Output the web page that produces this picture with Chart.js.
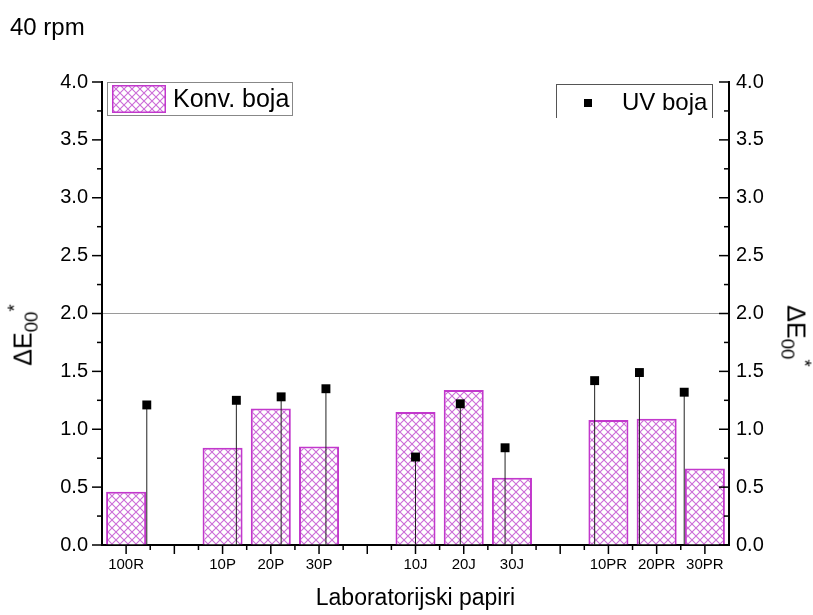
<!DOCTYPE html>
<html>
<head>
<meta charset="utf-8">
<script src="https://cdn.jsdelivr.net/npm/chart.js@4"></script>
<style>
  body { margin: 0; background: #fff; }
  #wrap { position: relative; width: 813px; height: 615px; font-family: "Liberation Sans", Arial, sans-serif; color: #000; }
  .txt { position: absolute; white-space: nowrap; }
  .rot { transform: translate(-50%, -50%) rotate(-90deg); }
  .rotR { transform: translate(-50%, -50%) rotate(90deg); }
  sub { font-size: 0.75em; vertical-align: -0.3em; }
  sup { font-size: 0.75em; vertical-align: 0.6em; }
  #legKonv { position: absolute; left: 107px; top: 82px; width: 186px; height: 34px; border: 1.5px solid #888; box-sizing: border-box; }
  #legUV { position: absolute; left: 556px; top: 84px; width: 157px; height: 34px; border: 1px solid #555; border-bottom: none; box-sizing: border-box; }
</style>
</head>
<body>
<div id="wrap">
  <canvas id="chart" width="813" height="615"></canvas>
  <div class="txt" style="left:10px; top:13px; font-size:24px;">40 rpm</div>
  <div class="txt rot" style="left:23px; top:335px; font-size:25px;">&Delta;E<sub>00</sub><sup>*</sup></div>
  <div class="txt rotR" style="left:796px; top:336px; font-size:25px;">&Delta;E<sub>00</sub><sup>*</sup></div>
  <div id="legKonv">
    <canvas id="swatch" width="54" height="28" style="position:absolute; left:4px; top:2px;"></canvas>
    <div class="txt" style="left:65px; top:1px; font-size:25px;">Konv. boja</div>
  </div>
  <div id="legUV">
    <div style="position:absolute; left:27px; top:14px; width:8px; height:8px; background:#000;"></div>
    <div class="txt" style="left:65px; top:3px; font-size:24px;">UV boja</div>
  </div>
</div>
<script>
// categories (empty ones are the gaps between groups)
const categories = ['100R', '', '10P', '20P', '30P', '', '10J', '20J', '30J', '', '10PR', '20PR', '30PR'];
const konvBoja = [0.46, null, 0.84, 1.18, 0.85, null, 1.15, 1.34, 0.58, null, 1.08, 1.09, 0.66];
const uvBoja = [1.21, null, 1.25, 1.28, 1.35, null, 0.76, 1.22, 0.84, null, 1.42, 1.49, 1.32];
const yTicks = [0, 0.5, 1.0, 1.5, 2.0, 2.5, 3.0, 3.5, 4.0];

const magenta = '#c238cc';

const makeHatch = () => { // crosshatch fill like the origin bars
  const c = document.createElement('canvas');
  c.width = 8; c.height = 8;
  const g = c.getContext('2d');
  g.fillStyle = '#fff';
  g.fillRect(0, 0, 8, 8);
  g.strokeStyle = 'rgba(190, 70, 205, 0.8)';
  g.lineWidth = 1.1;
  g.beginPath();
  g.moveTo(0, 0); g.lineTo(8, 8);
  g.moveTo(8, 0); g.lineTo(0, 8);
  g.stroke();
  return g.createPattern(c, 'repeat');
};

const hatch = makeHatch();

// legend swatch
const sw = document.getElementById('swatch').getContext('2d');
sw.fillStyle = hatch;
sw.fillRect(0, 0, 54, 28);
sw.strokeStyle = magenta;
sw.lineWidth = 1.5;
sw.strokeRect(0.75, 0.75, 52.5, 26.5);

const uvPoints = uvBoja.map((v, i) => v == null ? null : { x: i, y: v }).filter(p => p);

const dropLines = { // vertical line from each UV point down to 0
  id: 'dropLines',
  beforeDatasetDraw(chart, args) {
    if (args.index !== 1) return;
    const ctx = chart.ctx;
    const y0 = chart.scales.y.getPixelForValue(0);
    ctx.save();
    ctx.strokeStyle = '#222';
    ctx.lineWidth = 1;
    args.meta.data.forEach(pt => {
      ctx.beginPath();
      ctx.moveTo(pt.x, pt.y);
      ctx.lineTo(pt.x, y0);
      ctx.stroke();
    });
    ctx.restore();
  }
};

const tickMarks = { // major + minor tick marks
  id: 'tickMarks',
  afterDraw(chart) {
    const { ctx, scales } = chart;
    const { x, y, y1 } = scales;
    ctx.save();
    ctx.strokeStyle = '#000';
    ctx.lineWidth = 1.5;
    const seg = (x1, yA, x2, yB) => { ctx.beginPath(); ctx.moveTo(x1, yA); ctx.lineTo(x2, yB); ctx.stroke(); };
    for (let k = 0; k <= 16; k++) {
      const v = k * 0.25;
      const len = k % 2 === 0 ? 10 : 5;
      const py = y.getPixelForValue(v);
      seg(y.right - len, py, y.right, py);
      const py1 = y1.getPixelForValue(v);
      seg(y1.left - len, py1, y1.left, py1);
    }
    for (let i = 0; i < categories.length; i++) {
      const px = x.getPixelForValue(i);
      seg(px, x.top, px, x.top + 9);
      if (i < categories.length - 1) {
        const mid = (px + x.getPixelForValue(i + 1)) / 2;
        seg(mid, x.top, mid, x.top + 5);
      }
    }
    ctx.restore();
  }
};

const ctx = document.getElementById('chart').getContext('2d');
Chart.defaults.font.family = '"Liberation Sans", Arial, sans-serif';
Chart.defaults.color = '#000';

window.myChart = new Chart(ctx, {
  type: 'bar',
  data: {
    labels: categories,
    datasets: [
      {
        type: 'bar',
        label: 'Konv. boja',
        data: konvBoja,
        backgroundColor: hatch,
        borderColor: magenta,
        borderWidth: 2,
        grouped: false,
        barPercentage: 0.83,
        categoryPercentage: 1,
        xAxisID: 'x',
        yAxisID: 'y',
        order: 2
      },
      {
        type: 'scatter',
        label: 'UV boja',
        data: uvPoints,
        pointStyle: 'rect',
        pointRadius: 6.3,
        backgroundColor: '#000',
        borderColor: '#000',
        borderWidth: 0,
        xAxisID: 'x2',
        yAxisID: 'y',
        order: 1
      }
    ]
  },
  options: {
    responsive: false,
    devicePixelRatio: 1,
    animation: false,
    layout: { padding: { top: 82, left: 0, right: 0, bottom: 0 } },
    plugins: {
      legend: { display: false },
      tooltip: { enabled: false }
    },
    scales: {
      x: {
        type: 'category',
        offset: true,
        grid: { display: false, drawTicks: false },
        border: { color: '#000', width: 2 },
        ticks: { autoSkip: false, maxRotation: 0, padding: 11, color: '#000', font: { size: 15 } },
        title: { display: true, text: 'Laboratorijski papiri', color: '#000', font: { size: 23 }, padding: { top: 2, bottom: 3 } },
        afterFit: s => { s.height = 70; }
      },
      x2: { type: 'linear', min: -1, max: 13, offset: false, display: false },
      y: {
        min: 0, max: 4,
        afterBuildTicks: s => { s.ticks = yTicks.map(v => ({ value: v })); },
        ticks: { padding: 14, color: '#000', font: { size: 20 }, callback: v => v.toFixed(1) },
        grid: { drawTicks: false, lineWidth: 1, color: c => c.tick && c.tick.value === 2 ? '#9a9a9a' : 'rgba(0,0,0,0)' },
        border: { color: '#000', width: 2 },
        afterFit: s => { s.width = 102; }
      },
      y1: {
        position: 'right',
        min: 0, max: 4,
        afterBuildTicks: s => { s.ticks = yTicks.map(v => ({ value: v })); },
        ticks: { padding: 7, color: '#000', font: { size: 20 }, callback: v => v.toFixed(1) },
        grid: { display: false, drawTicks: false },
        border: { color: '#000', width: 2 },
        afterFit: s => { s.width = 84; }
      }
    }
  },
  plugins: [dropLines, tickMarks]
});
</script>
</body>
</html>
